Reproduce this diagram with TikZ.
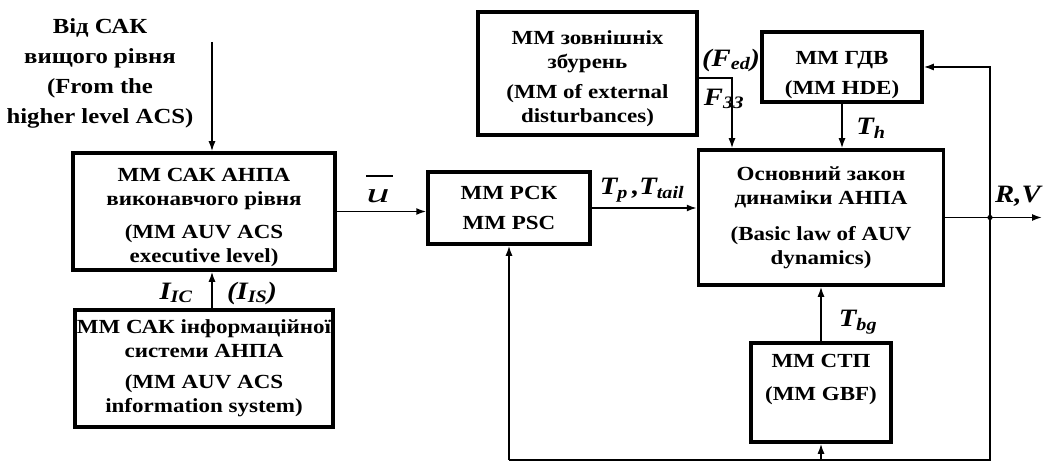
\documentclass[tikz,border=0pt]{standalone}
\usepackage{fontspec}
\setmainfont{Liberation Serif}[FakeStretch=1.15]
\usetikzlibrary{arrows.meta}
\newcommand\upstrut[1]{\rule{0pt}{#1}}
\newcommand\dnstrut[1]{\rule[-#1]{0pt}{0pt}}
\begin{document}
\begin{tikzpicture}[x=1pt,y=-1pt,
  blk/.style={draw,line width=3.5pt,inner sep=0pt,align=center,
    font=\bfseries\fontsize{20}{24}\selectfont},
  conn/.style={line width=1.6pt},
  arr/.style={line width=1.6pt,-{Latex[length=10pt,width=7pt]}},
  lbl/.style={inner sep=0pt,font=\bfseries\itshape\fontsize{25}{25}\selectfont},
  txt/.style={inner sep=0pt,align=center,font=\bfseries\fontsize{21.5}{30}\selectfont}]
\useasboundingbox (0,0) rectangle (1044,465);
% blocks
\node[blk,minimum width=262pt,minimum height=117pt] (A) at (204,211.5)
  {\upstrut{26pt}ММ САК АНПА\\ виконавчого рівня\\[9pt] (MM AUV ACS\\ executive level)};
\node[blk,minimum width=258pt,minimum height=117pt] (B) at (204,368.5)
  {ММ САК інформаційної\\ системи АНПА\\[7pt] (MM AUV ACS\\ information system)};
\node[blk,minimum width=162pt,minimum height=72pt] (C) at (509,208)
  {ММ РСК\\[6pt] MM PSC};
\node[blk,minimum width=245pt,minimum height=135pt] (D) at (821,217.5)
  {Основний закон\\ динаміки АНПА\\[12pt] (Basic law of AUV\\ dynamics)};
\node[blk,minimum width=160pt,minimum height=70pt] (E) at (842,67)
  {\upstrut{30pt}ММ ГДВ\\[6pt] (MM HDE)};
\node[blk,minimum width=140pt,minimum height=99pt] (F) at (821,392.5)
  {ММ СТП\\[9pt] (MM GBF)\dnstrut{30pt}};
\node[blk,minimum width=219pt,minimum height=123pt] (G) at (587.5,73.5)
  {\upstrut{24pt}ММ зовнішніх\\ збурень\\[6pt] (MM of external\\ disturbances)};
% top text
\node[txt] (src) at (100,73) {Від САК\\ вищого рівня\\ (From the\\ higher level ACS)};
\coordinate (top) at (212,42);
\draw[arr] (top) -- (top |- A.north);
\draw[arr] (B.north -| top) -- (A.south -| top);
\draw[arr] (A.east) -- (A.east -| C.west);
\draw[arr] (C.east) -- (C.east -| D.west);
\coordinate (dot) at (990,217.5);
\coordinate (out) at (1042,217.5);
\coordinate (bot) at (990,460);
\coordinate (gf) at (732,78);
\draw[arr] (D.east) -- (out);
\fill (dot) circle (2.6pt);
\draw[arr] (dot) |- (E.east);
\draw[conn] (dot) -- (bot) -- (bot -| C.south);
\draw[arr] (bot -| C.south) -- (C.south);
\draw[arr] (bot -| F.south) -- (F.south);
\draw[arr] (F.north) -- (F.north |- D.south);
\draw[arr] (E.south) -- (E.south |- D.north);
\draw[arr] (gf -| G.east) -- (gf) -- (gf |- D.north);
% labels
\node[inner sep=0pt,anchor=base,font=\fontsize{28}{28}\selectfont] (u) at (378,203)
  {\scalebox{1.45}[1]{\itshape u}};
\draw[line width=1.4pt] ([yshift=14pt]u.north west) -- ([yshift=14pt,xshift=3pt]u.north east);
\node[lbl] (tp) at (642,190) {T\textsubscript{p}\,,T\textsubscript{tail}};
\node[lbl] (fed) at (731,60) {(F\textsubscript{ed})};
\node[lbl] (fzz) at (724,99) {F\textsubscript{ЗЗ}};
\node[lbl] (th) at (871,128) {T\textsubscript{h}};
\node[lbl] (tbg) at (858,322) {T\textsubscript{bg}};
\node[lbl] (rv) at (1018,196) {R,V};
\node[lbl] (iic) at (176,293) {I\textsubscript{IC}};
\node[lbl] (iis) at (252,293) {(I\textsubscript{IS})};
\end{tikzpicture}
\end{document}
